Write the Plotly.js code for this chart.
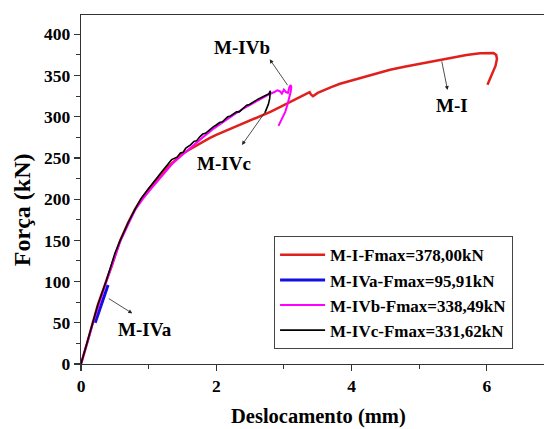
<!DOCTYPE html>
<html>
<head>
<meta charset="utf-8">
<script src="https://cdn.plot.ly/plotly-3.0.1.min.js"></script>
<style>html,body{margin:0;padding:0;background:#fff;}#chart{width:544px;height:429px;}</style>
</head>
<body>
<div id="chart"></div>
<script>
// M-I (red)
const miX = [0,0.05,0.1,0.17,0.25,0.37,0.45,0.58,0.7,0.8,0.89,1.0,1.1,1.2,1.3,1.4,1.5,1.6,1.7,1.8,1.9,2.0,2.2,2.4,2.6,2.8,3.0,3.2,3.3,3.38,3.4,3.43,3.5,3.6,3.7,3.83,4.0,4.13,4.3,4.57,4.8,5.06,5.31,5.5,5.7,5.9,6.05,6.1,6.14,6.15,6.13,6.09,6.05,6.01];
const miY = [0,13,28,49,72,100,118,150,172,188,200,212,222,231,240,248,255,260,265,270,274,278,285,292,299,306,314,322,326,330,327,325,329,333,336,340,344,347,351,357,361,365,369,372,375,377,378,377.5,375,370,362,354,346,339];
// M-IVa (blue)
const mivaX = [0.21,0.25,0.29,0.33,0.37,0.40];
const mivaY = [50,60,70,80,89,95.91];
// M-IVb (magenta)
const mivbX = [0,0.17,0.37,0.58,0.8,0.92,1.05,1.2,1.35,1.5,1.65,1.8,1.95,2.1,2.25,2.4,2.55,2.7,2.8,2.86,2.9,2.94,2.97,3.0,3.03,3.06,3.08,3.1,3.11,3.1,3.08,3.05,3.02,2.98,2.95,2.92];
const mivbY = [0,48,99,149,187,201,214,228,243,254,265,275,285,294,302,310,317,324,328,330,332,331,328,333,330,329,336,338.49,336,330,322,314,306,299,294,289];
// M-IVc (black)
const mivcX = [0,0.1,0.17,0.25,0.37,0.5,0.58,0.7,0.8,0.89,1.0,1.1,1.2,1.34,1.42,1.47,1.51,1.55,1.62,1.67,1.71,1.76,1.8,1.84,1.88,1.92,1.96,2.0,2.05,2.09,2.13,2.17,2.21,2.26,2.3,2.34,2.38,2.42,2.45,2.49,2.53,2.57,2.6,2.63,2.66,2.70,2.74,2.78,2.80,2.79,2.77,2.75,2.72];
const mivcY = [0,28,49,72,100,134,150,172,188,201,213,224,234,248,251,256,257,262,266,270,271,276,279,280,283,286,288,290,293,294,297,300,301,304,306,306,309,312,314,315,317,320,321,322,323,325,327,328,331.62,322,315,310,305];

const seriesNames = ['M-I-Fmax=378,00kN','M-IVa-Fmax=95,91kN','M-IVb-Fmax=338,49kN','M-IVc-Fmax=331,62kN'];
const xTickVals = [0,2,4,6];
const yTickVals = [0,50,100,150,200,250,300,350,400];

const serif = 'Liberation Serif, Times New Roman, serif';

const traces = [
  {x: miX, y: miY, name: seriesNames[0], mode: 'lines', line: {color: '#e0201c', width: 2.5}},
  {x: mivaX, y: mivaY, name: seriesNames[1], mode: 'lines', line: {color: '#1010e0', width: 3}},
  {x: mivbX, y: mivbY, name: seriesNames[2], mode: 'lines', line: {color: '#ff00ff', width: 2}},
  {x: mivcX, y: mivcY, name: seriesNames[3], mode: 'lines', line: {color: '#000000', width: 1.6}}
];

const annFont = {family: serif, size: 19, color: '#000', weight: 'bold'};
function label(text, x, y) {
  return {text: '<b>' + text + '</b>', x: x, y: y, xref: 'x', yref: 'y', showarrow: false, font: annFont};
}
function arrow(x, y, ax, ay) {
  return {text: '', x: x, y: y, ax: ax, ay: ay, xref: 'x', yref: 'y', axref: 'x', ayref: 'y',
          showarrow: true, arrowhead: 2, arrowsize: 1, arrowwidth: 0.8, arrowcolor: '#222', standoff: 0, startstandoff: 0};
}

const layout = {
  width: 544, height: 429,
  margin: {l: 80.7, r: 0, t: 15, b: 65},
  paper_bgcolor: '#fff', plot_bgcolor: '#fff',
  showlegend: true,
  legend: {x: 0.417, y: 0.366, xanchor: 'left', yanchor: 'top', bgcolor: '#fff', bordercolor: '#444', borderwidth: 1,
           font: {family: serif, size: 17, color: '#000', weight: 'bold'}, itemwidth: 45, tracegroupgap: 0},
  xaxis: {
    range: [0, 6.846], showgrid: false, zeroline: false, showline: true, linecolor: '#333', linewidth: 1.2, mirror: true,
    ticks: 'outside', ticklen: 6, tickwidth: 1.2, tickcolor: '#333', tickvals: xTickVals,
    minor: {dtick: 1, tick0: 0, ticks: 'outside', ticklen: 3.5, tickwidth: 1, tickcolor: '#333', showgrid: false},
    tickfont: {family: serif, size: 17.5, color: '#000', weight: 'bold'}
  },
  yaxis: {
    range: [0, 423.5], showgrid: false, zeroline: false, showline: true, linecolor: '#333', linewidth: 1.2, mirror: false,
    ticks: 'outside', ticklen: 6, tickwidth: 1.2, tickcolor: '#333', tickvals: yTickVals,
    minor: {dtick: 25, tick0: 0, ticks: 'outside', ticklen: 3.5, tickwidth: 1, tickcolor: '#333', showgrid: false},
    tickfont: {family: serif, size: 17.5, color: '#000', weight: 'bold'}
  },
  annotations: [
    {text: '<b>Força (kN)</b>', textangle: -90, xref: 'paper', yref: 'paper', x: -0.1273, y: 0.441,
     xanchor: 'center', yanchor: 'middle', showarrow: false, font: {family: serif, size: 24, color: '#000'}},
    {text: '<b>Deslocamento (mm)</b>', xref: 'paper', yref: 'paper', x: 0.512, y: -0.149,
     xanchor: 'center', yanchor: 'middle', showarrow: false, font: {family: serif, size: 20.5, color: '#000'}},
    label('M-IVb', 2.38, 384), arrow(2.79, 369.8, 3.07, 336.5),
    label('M-IVc', 2.12, 243.6), arrow(2.38, 265.8, 2.76, 310),
    label('M-I', 5.48, 314), arrow(5.42, 332.5, 5.33, 369),
    label('M-IVa', 0.95, 42), arrow(0.758, 61.5, 0.389, 80.5)
  ]
};

Plotly.newPlot('chart', traces, layout, {displayModeBar: false, staticPlot: true});
</script>
</body>
</html>
